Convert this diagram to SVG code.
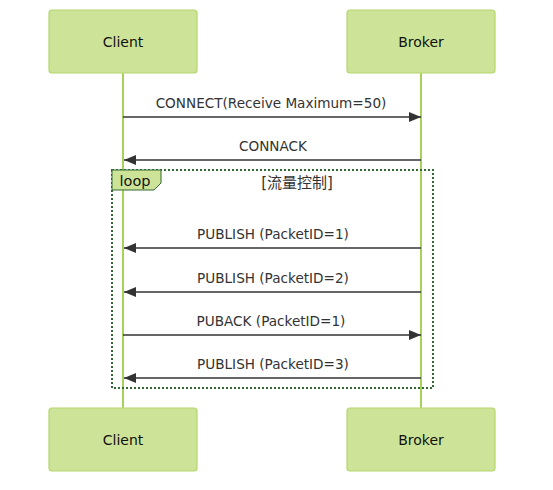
<svg xmlns="http://www.w3.org/2000/svg" width="553" height="490" viewBox="0 0 553 490">
<style>
.actor{fill:#cde498;stroke:#b5d66e;stroke-width:1.2}
.atext{font-family:"DejaVu Sans",sans-serif;font-size:14px;fill:#111;text-anchor:middle;dominant-baseline:central}
.life{stroke:#a9d15a;stroke-width:2}
.msg{stroke:#333;stroke-width:1.5;fill:none}
.mtext{font-family:"DejaVu Sans",sans-serif;font-size:13.6px;fill:#333;text-anchor:middle}
.loop{fill:none;stroke:#326932;stroke-width:2;stroke-dasharray:2,2}
</style>
<defs>
<marker id="ah" viewBox="0 0 12 10" refX="12" refY="5" markerWidth="12" markerHeight="10" markerUnits="userSpaceOnUse" orient="auto">
<path d="M0,0 L12,5 L0,10 z" fill="#333"/>
</marker>
</defs>
<rect width="553" height="490" fill="#fff"/>
<g id="lifelines">
<line class="life" x1="123" y1="73" x2="123" y2="408"/>
<line class="life" x1="421" y1="73" x2="421" y2="408"/>
</g>
<g id="client-top"><rect class="actor" x="49" y="10" width="148" height="63" rx="3"/><text class="atext" x="123" y="42">Client</text></g>
<g id="broker-top"><rect class="actor" x="347" y="10" width="148" height="63" rx="3"/><text class="atext" x="421" y="42">Broker</text></g>
<g id="client-bottom"><rect class="actor" x="49" y="408" width="148" height="63" rx="3"/><text class="atext" x="123" y="440">Client</text></g>
<g id="broker-bottom"><rect class="actor" x="347" y="408" width="148" height="63" rx="3"/><text class="atext" x="421" y="440">Broker</text></g>
<g id="loop">
<rect class="loop" x="112" y="170" width="321" height="218"/>
<path d="M112,170 L161,170 L161,183 L154,190 L112,190 z" fill="#cde498" stroke="#326932" stroke-width="1"/>
<text class="atext" x="135" y="181" style="font-size:14.5px">loop</text>
<text class="atext" x="297" y="183" style="font-family:'DejaVu Sans','Noto Sans CJK SC',sans-serif;font-size:15px;fill:#333">[流量控制]</text>
</g>
<g id="connectors">
<line class="msg" x1="123" y1="117" x2="421" y2="117" marker-end="url(#ah)"/>
<text class="mtext" x="271" y="108">CONNECT(Receive Maximum=50)</text>
<line class="msg" x1="421" y1="160" x2="124" y2="160" marker-end="url(#ah)"/>
<text class="mtext" x="273" y="151">CONNACK</text>
<line class="msg" x1="421" y1="248" x2="124" y2="248" marker-end="url(#ah)"/>
<text class="mtext" x="273" y="239">PUBLISH (PacketID=1)</text>
<line class="msg" x1="421" y1="292" x2="124" y2="292" marker-end="url(#ah)"/>
<text class="mtext" x="273" y="283">PUBLISH (PacketID=2)</text>
<line class="msg" x1="123" y1="335" x2="421" y2="335" marker-end="url(#ah)"/>
<text class="mtext" x="271" y="326">PUBACK (PacketID=1)</text>
<line class="msg" x1="421" y1="378" x2="124" y2="378" marker-end="url(#ah)"/>
<text class="mtext" x="273" y="369">PUBLISH (PacketID=3)</text>
</g>
</svg>
